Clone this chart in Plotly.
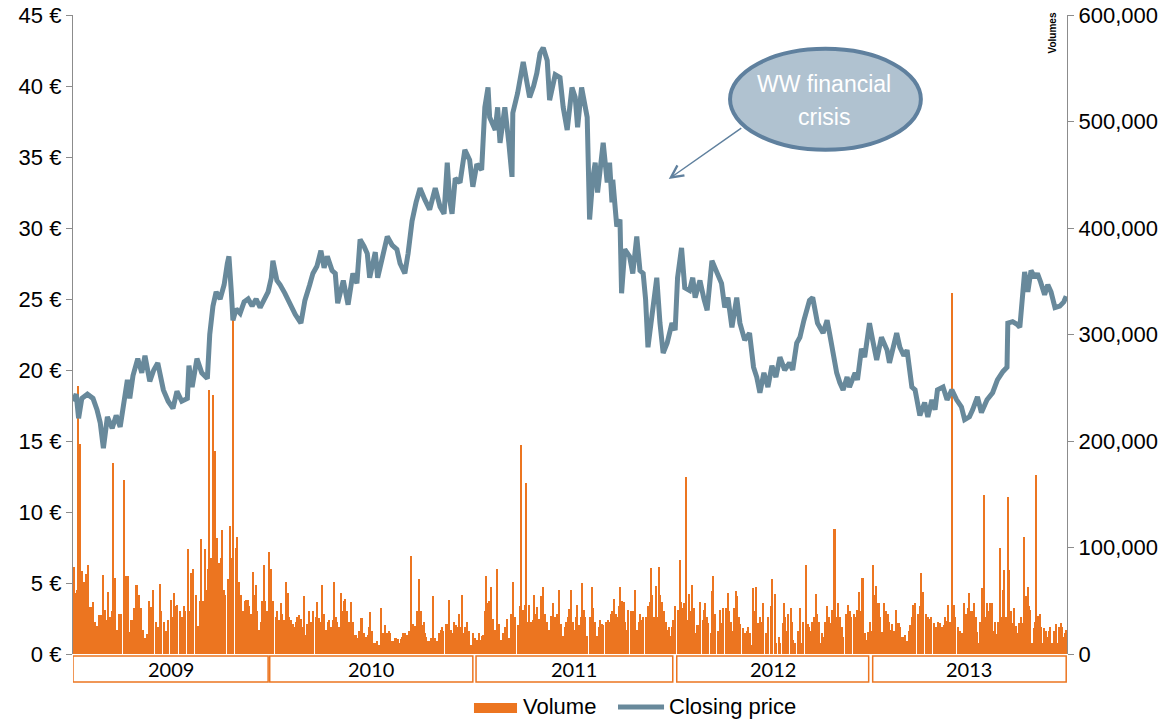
import numpy as np
import plotly.graph_objects as go

# ---------------- data (x = trading-day index from 1 Jan 2009) ----------------
years = ["2009", "2010", "2011", "2012", "2013"]
year_first_day = [0, 246, 504, 755, 1000]
year_last_day = [244, 500, 750, 995, 1242]

price_day = [0, 4, 7, 11, 18, 25, 30, 34, 38, 40, 43, 49, 54, 59, 63, 68, 71, 75, 81, 86, 90, 96, 101, 106,
             113, 119, 125, 130, 136, 143, 145, 149, 155, 161, 168, 171, 175, 179, 184, 189, 193, 195, 198,
             200, 204, 209, 214, 219, 224, 229, 234, 239, 244, 248, 250, 255, 259, 265, 271, 278, 285, 290,
             296, 300, 305, 310, 314, 318, 324, 328, 331, 338, 344, 350, 355, 359, 364, 368, 371, 378, 381,
             388, 393, 399, 405, 409, 415, 419, 424, 429, 434, 440, 446, 453, 459, 464, 468, 471, 474, 478,
             484, 490, 496, 500, 505, 511, 515, 519, 521, 528, 531, 534, 540, 545, 549, 550, 556, 563, 568,
             571, 576, 580, 584, 588, 593, 596, 603, 609, 613, 618, 624, 628, 631, 636, 643, 646, 650, 653,
             656, 663, 668, 671, 674, 675, 680, 684, 686, 690, 696, 700, 705, 709, 713, 716, 719, 724, 730,
             734, 738, 743, 749, 753, 756, 761, 765, 771, 775, 778, 784, 789, 793, 799, 805, 811, 815, 819,
             824, 830, 834, 840, 846, 851, 855, 859, 864, 869, 874, 879, 884, 890, 896, 900, 905, 909, 914,
             918, 921, 925, 931, 938, 943, 946, 950, 955, 959, 963, 968, 971, 978, 981, 986, 990, 994, 996,
             1000, 1005, 1011, 1018, 1021, 1030, 1034, 1039, 1043, 1049, 1053, 1059, 1065, 1069, 1074, 1078,
             1081, 1088, 1093, 1099, 1105, 1111, 1115, 1121, 1125, 1131, 1136, 1143, 1150, 1156, 1163, 1168,
             1169, 1175, 1181, 1184, 1188, 1190, 1194, 1198, 1203, 1206, 1210, 1215, 1219, 1223, 1228, 1234,
             1239, 1242]
price_eur = [17.8, 18.3, 16.6, 18.0, 18.3, 18.0, 17.2, 16.3, 14.5, 15.5, 16.7, 15.9, 16.8, 16.0, 17.5, 19.3,
             18.0, 19.6, 20.8, 19.8, 21.0, 19.2, 20.0, 20.5, 18.6, 17.8, 17.3, 18.5, 17.8, 18.0, 20.3, 18.8,
             20.8, 19.8, 19.4, 22.5, 24.5, 25.5, 25.0, 26.0, 27.5, 28.0, 25.5, 23.5, 24.3, 24.0, 24.8, 25.0,
             24.5, 25.0, 24.4, 25.0, 25.5, 26.5, 27.7, 26.3, 26.0, 25.4, 24.7, 23.9, 23.3, 24.9, 26.0, 26.8,
             27.3, 28.4, 27.2, 28.0, 27.0, 26.8, 24.7, 26.3, 24.6, 26.8, 26.1, 29.2, 28.7, 28.2, 26.5, 28.3,
             26.5, 28.0, 29.4, 28.8, 28.5, 27.5, 26.8, 28.2, 30.5, 31.8, 32.8, 32.0, 31.3, 32.8, 31.5, 31.0,
             34.6, 32.0, 31.0, 33.5, 33.2, 35.5, 34.8, 32.9, 34.5, 34.1, 38.5, 39.9, 37.8, 36.9, 38.5, 36.0,
             38.5, 36.0, 33.6, 38.1, 39.5, 41.7, 40.0, 39.2, 40.0, 40.9, 42.3, 42.7, 41.8, 39.0, 40.8, 40.6,
             38.5, 36.9, 39.9, 39.2, 37.1, 39.9, 37.8, 30.6, 33.5, 34.6, 32.5, 36.0, 33.2, 34.6, 31.8, 33.4,
             30.1, 30.6, 25.4, 28.5, 28.0, 26.8, 29.4, 27.0, 26.8, 25.0, 21.6, 24.0, 26.5, 23.3, 21.2, 21.9,
             23.3, 22.8, 26.5, 28.6, 25.8, 25.6, 26.5, 25.1, 26.3, 25.0, 24.2, 27.7, 27.0, 26.1, 24.4, 25.1,
             23.0, 25.1, 23.3, 22.1, 22.6, 20.2, 19.5, 18.4, 19.8, 18.8, 20.3, 19.5, 20.9, 20.0, 20.5, 20.0,
             21.9, 22.3, 23.5, 24.4, 24.9, 25.1, 23.3, 22.6, 23.5, 22.6, 21.4, 19.8, 19.1, 18.6, 19.5, 18.8,
             19.8, 19.3, 21.5, 20.9, 22.5, 23.3, 22.1, 20.7, 22.3, 21.4, 20.5, 22.6, 21.6, 21.0, 21.4, 18.8,
             18.6, 16.8, 17.7, 16.7, 17.9, 17.2, 18.6, 18.8, 17.9, 18.6, 17.9, 17.4, 16.5, 16.7, 17.2, 18.1,
             17.0, 17.9, 18.4, 19.3, 19.9, 20.2, 23.3, 23.4, 23.2, 23.0, 25.6, 26.9, 25.5, 27.0, 26.5, 26.8,
             26.2, 25.3, 26.0, 25.5, 24.4, 24.5, 24.8, 25.2]

# Daily volume (thousands of shares), by year
vol_day_2009 = [0, 1, 4, 6, 8, 10, 12, 15, 18, 20, 22, 24, 26, 29, 31, 34, 36, 39, 41, 42, 45, 48, 50, 51, 54,
                56, 59, 60, 62, 65, 68, 69, 71, 74, 76, 78, 80, 82, 84, 86, 89, 91, 94, 96, 99, 100, 102, 105,
                108, 110, 112, 115, 118, 121, 124, 125, 128, 130, 132, 135, 138, 140, 142, 145, 146, 149, 150,
                152, 155, 158, 159, 161, 162, 164, 166, 168, 169, 171, 172, 174, 176, 179, 180, 182, 184, 186,
                188, 190, 192, 195, 198, 199, 200, 202, 205, 206, 209, 211, 214, 215, 218, 220, 221, 224, 226,
                228, 230, 231, 234, 235, 238, 240, 242, 244]
vol_k_2009 = [82, 57, 60, 252, 197, 78, 68, 75, 84, 44, 44, 49, 30, 26, 37, 37, 74, 41, 32, 58, 35, 40, 179, 71, 23,
              38, 38, 30, 163, 73, 73, 21, 32, 32, 43, 65, 65, 55, 43, 23, 15, 19, 50, 44, 48, 60, 30, 25,
              66, 40, 30, 22, 32, 51, 35, 57, 45, 46, 40, 35, 45, 40, 99, 40, 76, 60, 80,
              55, 26, 50, 108, 45, 50, 99, 60, 80, 248, 82, 90, 243, 191, 100, 109, 85, 90, 116,
              60, 55, 70, 120, 90, 335, 123, 100, 110, 68, 55, 40, 50, 51, 51, 45, 38, 77, 55,
              65, 40, 23, 30, 50, 84, 50, 40, 96]
vol_day_2010 = [246, 249, 250, 252, 255, 256, 259, 261, 262, 265, 268, 270, 271, 274, 275, 278, 279, 281, 284,
                285, 288, 290, 291, 294, 296, 299, 300, 302, 305, 306, 309, 311, 312, 315, 318, 319, 321, 324,
                325, 328, 330, 331, 334, 336, 338, 340, 342, 344, 346, 349, 350, 352, 355, 356, 359, 361, 362,
                365, 368, 370, 371, 372, 375, 378, 380, 382, 385, 386, 389, 390, 392, 394, 396, 398, 400, 402,
                405, 408, 409, 411, 412, 415, 416, 419, 420, 422, 424, 425, 426, 429, 430, 432, 434, 435, 438,
                439, 441, 442, 445, 446, 449, 450, 452, 455, 456, 459, 461, 462, 465, 468, 469, 471, 474, 475,
                478, 480, 481, 484, 486, 488, 490, 492, 494, 496, 499, 500, 502]
vol_k_2010 = [80, 50, 38, 35, 40, 32, 48, 38, 32, 68, 57, 35, 32, 28, 25, 30, 35, 37, 33,
              25, 54, 18, 28, 40, 30, 40, 25, 35, 49, 34, 30, 65, 38, 23, 30, 32, 25, 32,
              68, 35, 30, 25, 57, 40, 50, 52, 40, 30, 49, 30, 20, 18, 15, 22, 34, 34, 20,
              16, 18, 25, 39, 22, 10, 10, 12, 8, 43, 20, 17, 27, 20, 22, 20, 12, 12, 15,
              14, 10, 14, 16, 20, 20, 18, 18, 22, 92, 28, 28, 26, 28, 40, 70, 40, 27, 30,
              20, 16, 12, 12, 15, 54, 30, 15, 12, 20, 23, 25, 22, 28, 28, 51, 23, 20, 30,
              27, 25, 38, 25, 55, 20, 25, 30, 22, 8, 8, 20, 15]
vol_day_2011 = [505, 506, 509, 511, 512, 515, 516, 518, 520, 521, 524, 525, 528, 530, 531, 534, 536, 539, 541,
                544, 546, 549, 550, 552, 555, 558, 559, 561, 564, 565, 568, 570, 571, 574, 575, 578, 580, 581,
                584, 586, 589, 590, 592, 594, 596, 599, 600, 602, 604, 606, 609, 611, 614, 615, 618, 620, 621,
                624, 625, 628, 629, 631, 634, 635, 638, 640, 642, 645, 648, 650, 652, 655, 656, 659, 661, 662,
                665, 668, 670, 671, 674, 675, 678, 680, 682, 684, 685, 688, 690, 692, 694, 696, 699, 700, 702,
                705, 706, 709, 711, 712, 715, 718, 719, 721, 722, 724, 725, 728, 729, 730, 732, 734, 736, 738,
                739, 741, 742, 745, 746, 749, 750, 752]
vol_k_2011 = [13, 20, 13, 17, 18, 40, 73, 48, 50, 63, 33, 23, 23, 80, 28, 13, 20, 25, 33,
              15, 38, 68, 44, 35, 27, 45, 196, 41, 46, 161, 30, 46, 30, 32, 55, 38, 44, 33,
              54, 63, 38, 23, 30, 23, 36, 30, 48, 35, 38, 60, 28, 17, 25, 30, 35, 42, 60,
              30, 23, 35, 46, 27, 35, 67, 41, 35, 17, 35, 63, 43, 30, 17, 25, 32, 28, 27,
              30, 32, 30, 38, 40, 52, 38, 35, 45, 63, 50, 49, 30, 23, 41, 40, 35, 40, 60,
              23, 30, 38, 32, 35, 35, 40, 45, 49, 81, 55, 35, 64, 55, 35, 82, 55, 49, 40,
              26, 30, 23, 25, 17, 25, 32, 45]
vol_day_2012 = [755, 758, 759, 760, 762, 764, 766, 768, 770, 771, 774, 775, 778, 780, 781, 784, 786, 789, 790,
                792, 794, 796, 799, 800, 802, 805, 808, 809, 811, 812, 815, 818, 820, 821, 824, 825, 828, 830,
                832, 834, 836, 839, 840, 842, 844, 846, 848, 850, 852, 854, 855, 858, 859, 861, 862, 865, 868,
                869, 871, 874, 876, 879, 881, 884, 886, 889, 890, 892, 894, 896, 899, 900, 902, 905, 908, 909,
                911, 912, 915, 918, 920, 921, 924, 925, 928, 930, 931, 934, 936, 938, 940, 942, 945, 946, 949,
                950, 951, 954, 955, 958, 959, 961, 962, 965, 968, 969, 971, 972, 975, 978, 980, 982, 984, 986,
                989, 990, 992, 994, 996, 998]
vol_k_2012 = [41, 88, 53, 49, 43, 48, 166, 32, 56, 40, 65, 43, 20, 27, 27, 49, 32, 41, 48,
              35, 29, 20, 59, 73, 38, 22, 35, 41, 29, 43, 43, 57, 40, 30, 22, 43, 59, 54,
              35, 28, 24, 16, 20, 22, 25, 20, 8, 62, 40, 63, 29, 35, 20, 30, 48, 20, 30,
              35, 45, 70, 56, 10, 16, 10, 29, 48, 35, 22, 38, 43, 30, 13, 10, 22, 43, 20,
              10, 30, 84, 28, 25, 22, 30, 35, 56, 38, 30, 10, 20, 16, 30, 45, 35, 29, 41,
              10, 117, 35, 48, 35, 22, 25, 16, 38, 45, 46, 40, 35, 38, 35, 41, 58, 40, 71,
              16, 20, 13, 21, 30, 22]
vol_day_2013 = [1000, 1001, 1004, 1006, 1009, 1011, 1014, 1015, 1018, 1020, 1021, 1024, 1025, 1028, 1029,
                1031, 1034, 1036, 1039, 1040, 1042, 1045, 1046, 1049, 1050, 1052, 1055, 1058, 1060, 1062,
                1065, 1068, 1070, 1072, 1075, 1078, 1080, 1081, 1084, 1086, 1088, 1090, 1091, 1094, 1096,
                1098, 1099, 1101, 1102, 1105, 1108, 1109, 1111, 1112, 1114, 1116, 1118, 1120, 1121, 1124,
                1126, 1128, 1130, 1132, 1134, 1135, 1138, 1140, 1141, 1142, 1145, 1146, 1149, 1151, 1152,
                1155, 1156, 1158, 1160, 1162, 1164, 1166, 1168, 1169, 1170, 1172, 1174, 1175, 1178, 1180,
                1181, 1182, 1185, 1186, 1189, 1191, 1194, 1195, 1196, 1199, 1201, 1202, 1204, 1206, 1208,
                1210, 1211, 1214, 1215, 1218, 1220, 1221, 1224, 1225, 1228, 1229, 1231, 1232, 1235, 1236,
                1238, 1240, 1241]
vol_k_2013 = [84, 55, 64, 48, 35, 21, 48, 40, 38, 30, 23, 28, 22, 35, 41,
              29, 25, 16, 10, 18, 12, 22, 27, 35, 46, 48, 38, 45, 76, 58,
              38, 35, 33, 35, 29, 25, 22, 30, 29, 25, 27, 35, 31, 46, 30,
              339, 68, 46, 35, 25, 22, 16, 20, 16, 48, 38, 43, 57, 40, 40,
              48, 35, 21, 10, 30, 62, 149, 26, 35, 48, 40, 48, 48, 22, 30,
              19, 30, 100, 35, 60, 79, 35, 50, 147, 79, 40, 29, 43, 26, 13,
              20, 29, 35, 29, 110, 54, 63, 45, 41, 10, 24, 30, 168, 36, 38,
              25, 10, 24, 22, 16, 22, 25, 10, 22, 28, 23, 10, 25, 29, 25,
              16, 20, 23]

legend_labels = ["Volume", "Closing price"]

# ---------------- styling ----------------
ORANGE = "#EC7520"
BLUE = "#68899B"
CALLOUT_FILL = "#B0C2D0"
CALLOUT_LINE = "#5F809E"
AXIS_GREY = "#8C8C8C"
FONT = "Liberation Sans, Arial, sans-serif"

vol_day = np.array(vol_day_2009 + vol_day_2010 + vol_day_2011 + vol_day_2012 + vol_day_2013, dtype=float)
vol_k = np.array(vol_k_2009 + vol_k_2010 + vol_k_2011 + vol_k_2012 + vol_k_2013, dtype=float)
assert len(vol_day) == len(vol_k), (len(vol_day), len(vol_k))
assert len(price_day) == len(price_eur), (len(price_day), len(price_eur))
bar_w = np.maximum(np.diff(vol_day, append=vol_day[-1] + 2.0), 2.0) * 0.85

fig = go.Figure()
fig.add_trace(go.Bar(x=vol_day, y=vol_k * 1000, width=bar_w, offset=0,
                     marker=dict(color=ORANGE, line=dict(width=0)),
                     yaxis="y", showlegend=False, name=legend_labels[0], hoverinfo="skip"))
fig.add_trace(go.Scatter(x=price_day, y=price_eur, mode="lines",
                         line=dict(color=BLUE, width=5),
                         yaxis="y2", showlegend=False, name=legend_labels[1]))

axis_common = dict(showgrid=False, zeroline=False, showline=True, linecolor=AXIS_GREY, linewidth=1.3,
                   ticks="outside", tickcolor=AXIS_GREY, ticklen=6, tickwidth=1.3,
                   tickfont=dict(family=FONT, size=22, color="#000000"))

fig.update_layout(
    width=1175, height=722,
    margin=dict(l=73, r=108, t=15, b=68, autoexpand=False),
    paper_bgcolor="white", plot_bgcolor="white",
    font=dict(family=FONT, size=22, color="#000000"),
    bargap=0, showlegend=False,
    xaxis=dict(range=[0, 1243], visible=False, fixedrange=True),
    yaxis=dict(side="right", range=[0, 600000], dtick=100000, tickformat=",", **axis_common),
    yaxis2=dict(side="left", overlaying="y", range=[0, 45], dtick=5, ticksuffix=" €", **axis_common),
)

# year boxes below the axis
for name, d0, d1 in zip(years, year_first_day, year_last_day):
    fig.add_shape(type="rect", xref="x", yref="paper", x0=d0, x1=d1, y0=-0.003, y1=-0.0438,
                  line=dict(color=ORANGE, width=1.5), fillcolor="rgba(0,0,0,0)")
    fig.add_annotation(x=(d0 + d1) / 2, xref="x", y=-0.0235, yref="paper", text=name,
                       xanchor="center", yanchor="middle", showarrow=False,
                       font=dict(family="Lato, Liberation Sans, sans-serif", size=20, color="#000000"))

# legend (drawn below the year boxes)
fig.add_shape(type="rect", xref="paper", yref="paper", x0=0.4034, x1=0.4467, y0=-0.0923, y1=-0.0767,
              fillcolor=ORANGE, line=dict(width=0))
fig.add_annotation(x=0.4507, xref="paper", y=-0.0829, yref="paper", text=legend_labels[0],
                   xanchor="left", yanchor="middle", showarrow=False, font=dict(family=FONT, size=22))
fig.add_shape(type="line", xref="paper", yref="paper", x0=0.5483, x1=0.5946, y0=-0.0829, y1=-0.0829,
              line=dict(color=BLUE, width=5))
fig.add_annotation(x=0.5976, xref="paper", y=-0.0829, yref="paper", text=legend_labels[1],
                   xanchor="left", yanchor="middle", showarrow=False, font=dict(family=FONT, size=22))

# "Volumes" axis title
fig.add_annotation(x=0.9855, xref="paper", y=0.972, yref="paper", text="<b>Volumes</b>", textangle=-90,
                   xanchor="center", yanchor="middle", showarrow=False,
                   font=dict(family=FONT, size=10, color="#000000"))

# callout
fig.add_shape(type="circle", xref="paper", yref="paper", x0=0.661, x1=0.853, y0=0.789, y1=0.947,
              fillcolor=CALLOUT_FILL, line=dict(color=CALLOUT_LINE, width=4), layer="above")
fig.add_annotation(x=0.7555, xref="paper", y=0.892, yref="paper", text="WW financial", showarrow=False,
                   xanchor="center", yanchor="middle", font=dict(family=FONT, size=23, color="white"))
fig.add_annotation(x=0.7555, xref="paper", y=0.840, yref="paper", text="crisis", showarrow=False,
                   xanchor="center", yanchor="middle", font=dict(family=FONT, size=23, color="white"))
fig.add_annotation(x=745, xref="x", y=33.45, yref="y2", text="", showarrow=True,
                   ax=74, ay=-52, arrowhead=5, arrowsize=1.6, arrowwidth=1.5, arrowcolor=CALLOUT_LINE,
                   standoff=0)

fig.write_html("out.html", config={"displayModeBar": False},
               post_script="document.body.style.margin='0';document.body.style.overflow='hidden';")
